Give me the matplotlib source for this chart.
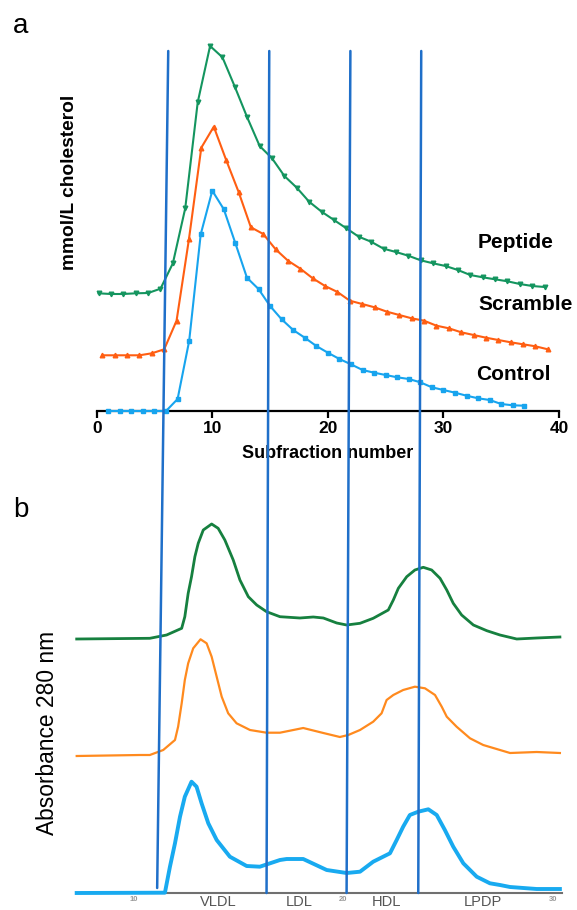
import matplotlib
matplotlib.use("Agg")
import matplotlib.pyplot as plt
from matplotlib.patches import ConnectionPatch

plt.rcParams['font.family'] = ['Liberation Sans', 'DejaVu Sans']

W, H = 577, 910

# ---------------- panel a data (stacked display values) ----------------
peptide_x = [0.16, 1.23, 2.30, 3.38, 4.45, 5.52, 6.59, 7.66, 8.74, 9.81, 10.88, 11.95, 13.02,
             14.10, 15.17, 16.24, 17.31, 18.38, 19.46, 20.53, 21.60, 22.67, 23.74, 24.82,
             25.89, 26.96, 28.03, 29.10, 30.18, 31.25, 32.32, 33.39, 34.46, 35.54, 36.61,
             37.68, 38.75]
peptide_y = [1.177, 1.17, 1.17, 1.177, 1.18, 1.223, 1.477, 2.027, 3.087, 3.65, 3.537, 3.243,
             2.937, 2.65, 2.527, 2.35, 2.233, 2.093, 1.993, 1.91, 1.827, 1.743, 1.693, 1.623,
             1.59, 1.553, 1.507, 1.477, 1.45, 1.41, 1.36, 1.337, 1.317, 1.297, 1.27, 1.25, 1.24]

scramble_x = [0.49, 1.56, 2.63, 3.70, 4.77, 5.84, 6.91, 7.98, 9.05, 10.13, 11.20, 12.27, 13.34,
              14.41, 15.48, 16.55, 17.62, 18.69, 19.76, 20.83, 21.90, 22.97, 24.04, 25.11,
              26.18, 27.25, 28.32, 29.40, 30.47, 31.54, 32.61, 33.68, 34.75, 35.82, 36.89,
              37.96, 39.03]
scramble_y = [0.557, 0.557, 0.557, 0.557, 0.577, 0.617, 0.903, 1.717, 2.633, 2.843, 2.51, 2.193,
              1.837, 1.77, 1.617, 1.503, 1.423, 1.327, 1.25, 1.19, 1.103, 1.07, 1.037, 0.993,
              0.96, 0.927, 0.903, 0.853, 0.827, 0.787, 0.76, 0.733, 0.71, 0.687, 0.667, 0.647, 0.617]

control_x = [1, 2, 3, 4, 5, 6, 7, 8, 9, 10, 11, 12, 13, 14, 15, 16, 17, 18, 19, 20, 21, 22, 23,
             24, 25, 26, 27, 28, 29, 30, 31, 32, 33, 34, 35, 36, 37]
control_y = [0.0, 0.0, 0.0, 0.0, 0.0, 0.0, 0.12, 0.70, 1.767, 2.203, 2.017, 1.677, 1.333, 1.22,
             1.05, 0.917, 0.81, 0.733, 0.65, 0.583, 0.52, 0.467, 0.41, 0.383, 0.36, 0.337,
             0.32, 0.287, 0.237, 0.21, 0.183, 0.153, 0.127, 0.11, 0.07, 0.057, 0.053]

series_a_names = ['Peptide', 'Scramble', 'Control']
xticks_a = [0, 10, 20, 30, 40]

# ---------------- panel b data (stacked absorbance traces) ----------------
b_green_x = [7.27, 10.76, 11.56, 12.28, 12.43, 12.59, 12.75, 12.91, 13.07, 13.31, 13.71, 14.02,
             14.34, 14.74, 15.06, 15.46, 15.86, 16.33, 16.97, 17.92, 18.56, 19.04, 19.68, 20.15,
             20.79, 21.42, 22.14, 22.38, 22.62, 23.02, 23.41, 23.81, 24.21, 24.61, 24.93, 25.24,
             25.64, 26.20, 26.84, 27.47, 28.27, 29.22, 30.33]
b_green_y = [2.54, 2.547, 2.58, 2.647, 2.763, 2.997, 3.163, 3.363, 3.497, 3.63, 3.69, 3.647,
             3.53, 3.33, 3.13, 2.963, 2.88, 2.813, 2.763, 2.75, 2.76, 2.75, 2.70, 2.68,
             2.697, 2.747, 2.83, 2.93, 3.047, 3.163, 3.23, 3.257, 3.23, 3.147, 3.03, 2.897,
             2.78, 2.68, 2.623, 2.58, 2.54, 2.55, 2.56]

b_orange_x = [7.27, 10.29, 10.76, 11.40, 11.96, 12.11, 12.28, 12.43, 12.59, 12.83, 13.18, 13.47,
              13.71, 13.95, 14.19, 14.50, 14.90, 15.54, 16.33, 16.97, 18.08, 19.04, 19.83, 20.23,
              20.79, 21.42, 21.82, 22.06, 22.38, 22.85, 23.41, 23.89, 24.37, 24.69, 24.93, 25.40,
              26.04, 26.67, 27.47, 27.95, 29.22, 30.33]
b_orange_y = [1.37, 1.38, 1.38, 1.43, 1.53, 1.663, 1.897, 2.13, 2.297, 2.447, 2.537, 2.497,
              2.363, 2.163, 1.963, 1.797, 1.697, 1.63, 1.603, 1.603, 1.65, 1.60, 1.56, 1.58,
              1.63, 1.713, 1.797, 1.93, 1.98, 2.03, 2.063, 2.047, 1.98, 1.863, 1.763, 1.663,
              1.547, 1.48, 1.43, 1.40, 1.41, 1.40]

b_blue_x = [7.27, 11.48, 11.72, 11.96, 12.20, 12.43, 12.75, 12.99, 13.23, 13.55, 13.95, 14.58,
            15.38, 16.01, 16.97, 17.29, 18.08, 19.20, 20.15, 20.79, 21.42, 22.22, 22.54, 22.85,
            23.17, 23.57, 24.05, 24.45, 24.84, 25.24, 25.72, 26.36, 26.99, 27.47, 27.95, 29.22,
            30.33]
b_blue_y = [0.0, 0.003, 0.263, 0.497, 0.763, 0.963, 1.113, 1.063, 0.897, 0.697, 0.53, 0.363,
            0.27, 0.263, 0.33, 0.34, 0.34, 0.23, 0.20, 0.213, 0.313, 0.397, 0.53, 0.663,
            0.78, 0.813, 0.837, 0.78, 0.63, 0.463, 0.297, 0.163, 0.097, 0.08, 0.06, 0.04,
            0.04]

xticks_b = [10, 20, 30]
class_names = ['VLDL', 'LDL', 'HDL', 'LPDP']
class_pos = [14.01, 17.89, 22.06, 26.64]

# boundary lines: (top-panel x, bottom-panel x, bottom-panel y end)
bound_top_x = [6.19, 14.93, 21.95, 28.08]
bound_bot_x = [11.11, 16.33, 20.15, 23.57]
bound_bot_y = [0.05, 0.0, 0.0, 0.0]

# ---------------- figure ----------------
fig = plt.figure(figsize=(W / 100, H / 100), dpi=100)

GREEN_A, ORANGE_A, BLUE_A = '#14955f', '#ff5e12', '#17a4ee'
GREEN_B, ORANGE_B, BLUE_B = '#16803f', '#ff8a1e', '#18aaf0'
LINE_C = '#1f6fc9'

ax1 = fig.add_axes([96.7 / W, 1 - 411 / H, (559 - 96.7) / W, 370 / H])
ax1.set_xlim(0, 40)
ax1.set_ylim(0, 3.7)
ax1.plot(peptide_x, peptide_y, color=GREEN_A, lw=1.5, marker='v', ms=3.3, clip_on=False, zorder=3)
ax1.plot(scramble_x, scramble_y, color=ORANGE_A, lw=1.5, marker='^', ms=3.3, clip_on=False, zorder=3)
ax1.plot(control_x, control_y, color=BLUE_A, lw=1.5, marker='s', ms=3.3, clip_on=False, zorder=4)
for s in ['left', 'right', 'top']:
    ax1.spines[s].set_visible(False)
ax1.spines['bottom'].set_linewidth(1.6)
ax1.set_yticks([])
ax1.set_xticks(xticks_a)
ax1.set_xticklabels([str(t) for t in xticks_a], fontsize=12.5, fontweight='bold')
ax1.tick_params(axis='x', length=5, width=1.6, pad=2)
ax1.set_xlabel('Subfraction number', fontsize=13, fontweight='bold', labelpad=6.5)
label_pos = [(33.0, 1.69), (33.0, 1.06), (32.8, 0.37)]
for name, (lx, ly) in zip(series_a_names, label_pos):
    ax1.text(lx, ly, name, fontsize=15, fontweight='bold', va='center', ha='left', clip_on=False)
fig.text(69 / W, 1 - 182.5 / H, 'mmol/L cholesterol', rotation=90, fontsize=13.8,
         fontweight='bold', ha='center', va='center')
fig.text(20.5 / W, 1 - 26 / H, 'a', fontsize=20, ha='center', va='center')

ax2 = fig.add_axes([76.7 / W, 1 - 893 / H, (562 - 76.7) / W, 380 / H])
ax2.set_xlim(7.27, 30.43)
ax2.set_ylim(0, 3.8)
ax2.plot(b_green_x, b_green_y, color=GREEN_B, lw=2.0, clip_on=False, zorder=3,
         solid_joinstyle='round')
ax2.plot(b_orange_x, b_orange_y, color=ORANGE_B, lw=1.6, clip_on=False, zorder=3,
         solid_joinstyle='round')
ax2.plot(b_blue_x, b_blue_y, color=BLUE_B, lw=2.8, clip_on=False, zorder=4,
         solid_joinstyle='round')
for s in ['left', 'right', 'top']:
    ax2.spines[s].set_visible(False)
ax2.spines['bottom'].set_color('#707070')
ax2.spines['bottom'].set_linewidth(1.5)
ax2.set_yticks([])
ax2.set_xticks(xticks_b)
ax2.set_xticklabels([str(t) for t in xticks_b], fontsize=5.5, color='#999999', fontweight='bold')
ax2.tick_params(axis='x', length=0, pad=2)
for name, cx in zip(class_names, class_pos):
    ax2.text(cx, -(909 - 893) / 380, name, transform=ax2.get_xaxis_transform(),
             fontsize=10.5, color='#555555', ha='center', va='bottom', clip_on=False)
fig.text(48 / W, 1 - 733 / H, 'Absorbance 280 nm', rotation=90, fontsize=16.4,
         ha='center', va='center')
fig.text(21 / W, 1 - 510 / H, 'b', fontsize=20, ha='center', va='center')

for xt, xb, yb in zip(bound_top_x, bound_bot_x, bound_bot_y):
    cp = ConnectionPatch(xyA=(xt, 3.6), coordsA=ax1.transData,
                         xyB=(xb, yb), coordsB=ax2.transData,
                         color=LINE_C, lw=1.8, zorder=10)
    fig.add_artist(cp)

fig.savefig('out.png', dpi=100)
